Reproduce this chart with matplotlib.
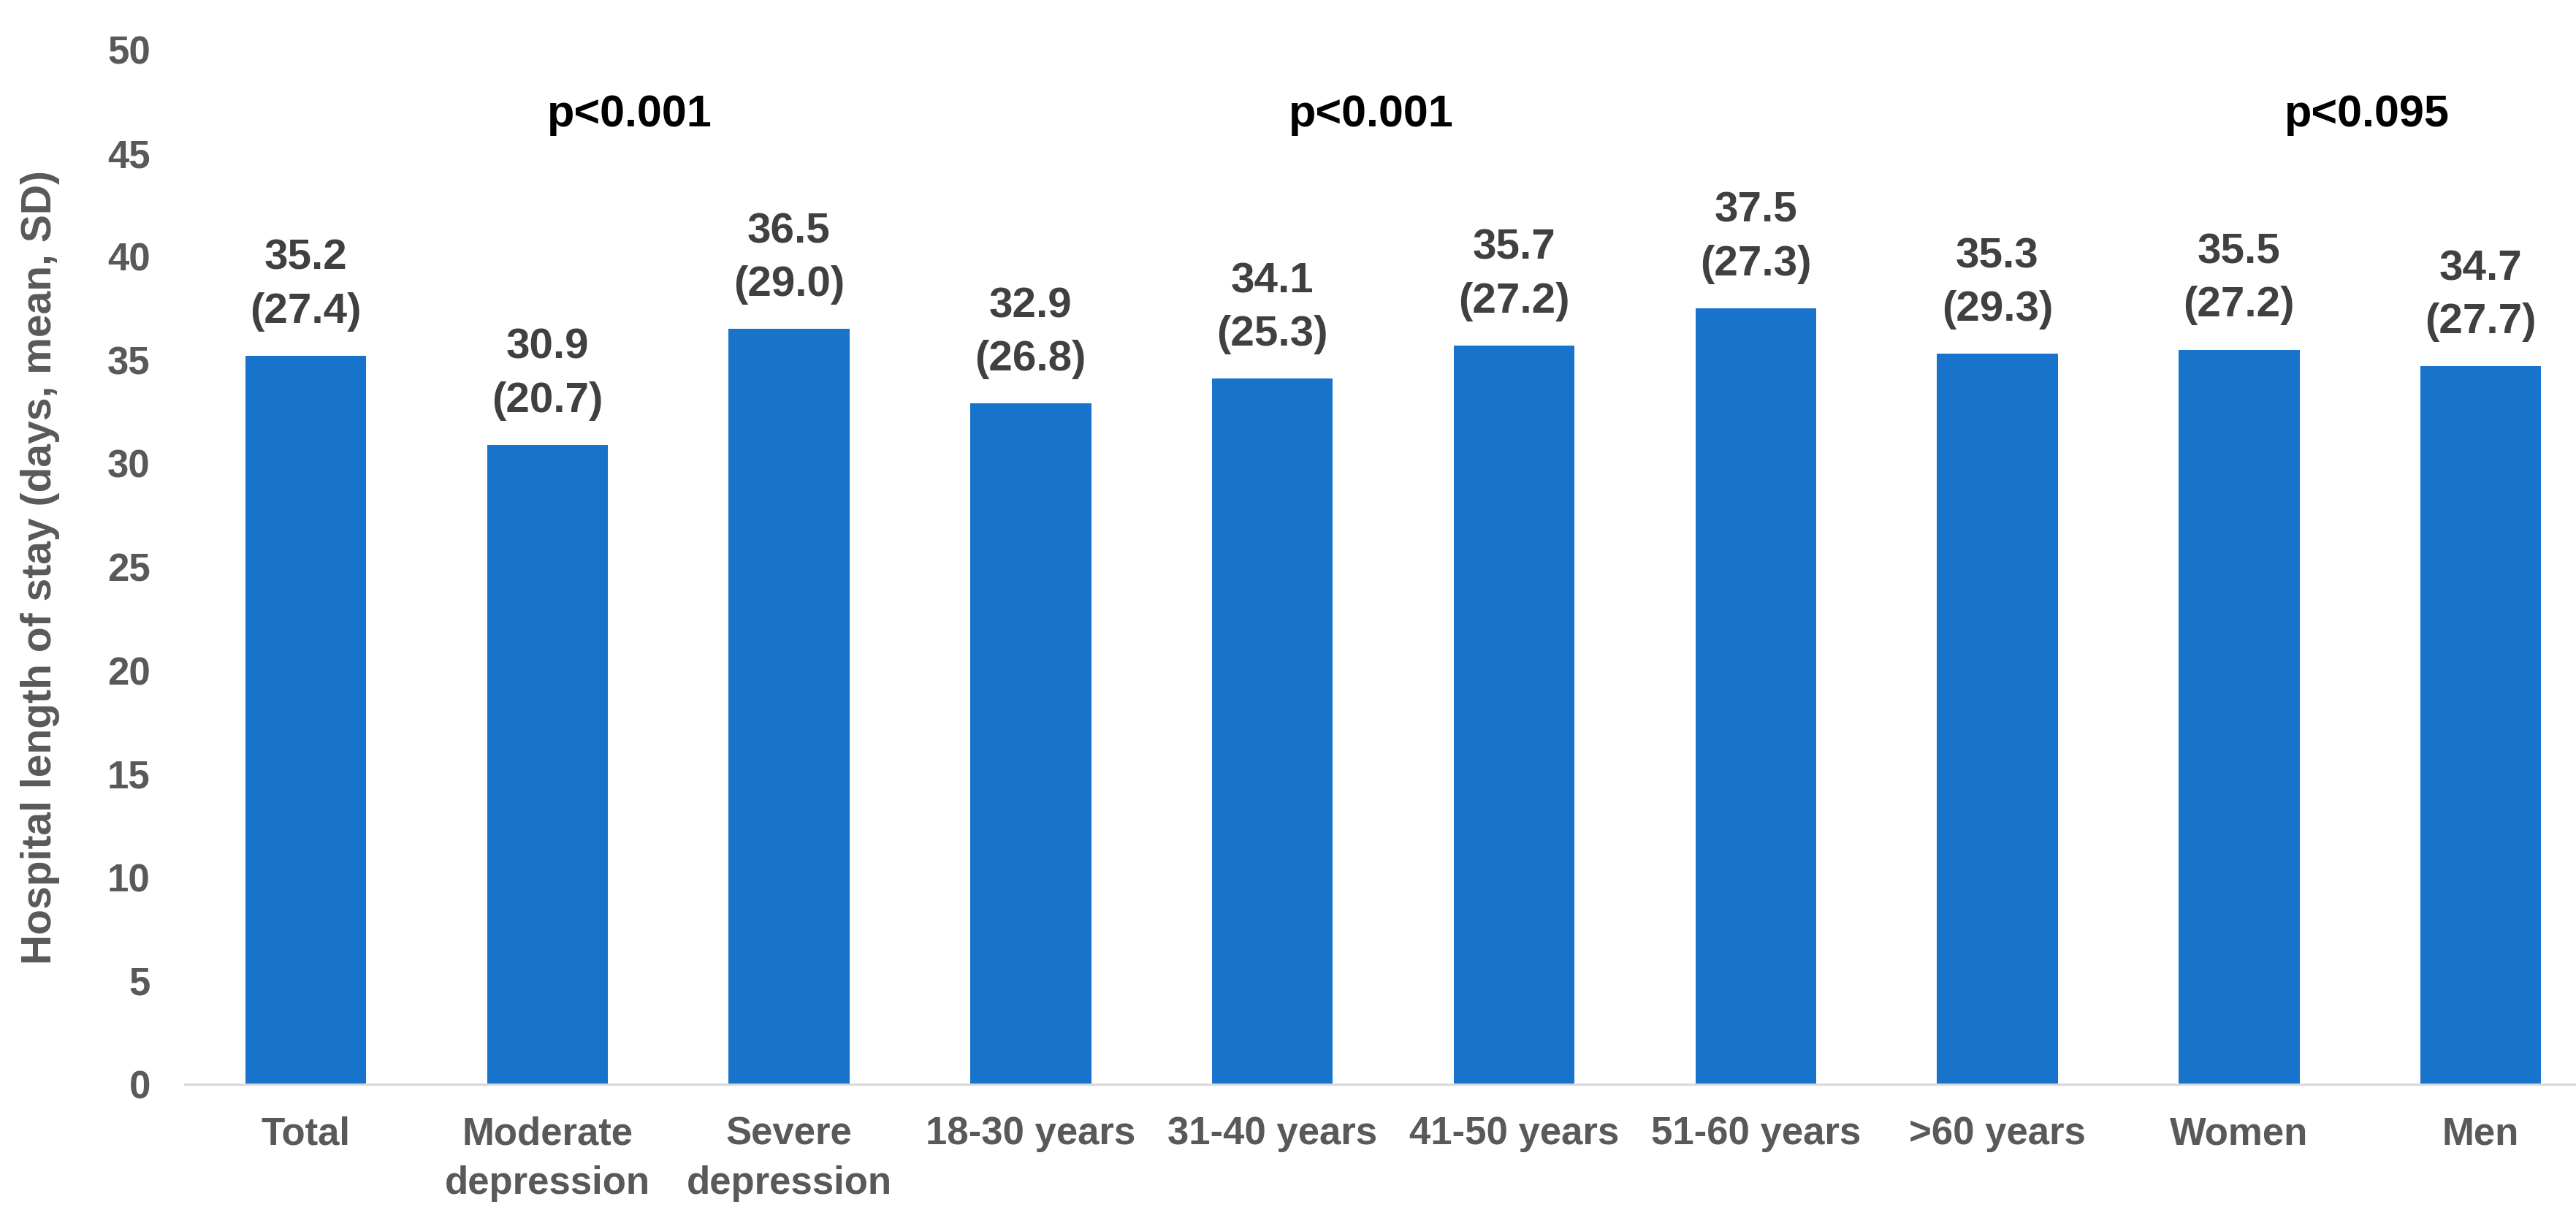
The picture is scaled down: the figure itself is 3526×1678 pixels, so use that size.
import matplotlib
matplotlib.use("Agg")
import matplotlib.pyplot as plt

categories = ["Total", "Moderate\ndepression", "Severe\ndepression", "18-30 years",
              "31-40 years", "41-50 years", "51-60 years", ">60 years", "Women", "Men"]
means = [35.2, 30.9, 36.5, 32.9, 34.1, 35.7, 37.5, 35.3, 35.5, 34.7]
sds = [27.4, 20.7, 29.0, 26.8, 25.3, 27.2, 27.3, 29.3, 27.2, 27.7]
p_labels = ["p<0.001", "p<0.001", "p<0.095"]
p_xpos = [1.34, 4.41, 8.53]
p_ypos = [46.85, 46.85, 46.85]
yticks = [0, 5, 10, 15, 20, 25, 30, 35, 40, 45, 50]
ylabel = "Hospital length of stay (days, mean, SD)"

plt.rcParams['font.family'] = ['Liberation Sans', 'DejaVu Sans']
plt.rcParams['font.weight'] = 'bold'

fig = plt.figure(figsize=(35.26, 16.78), dpi=100)
ax = fig.add_axes([253/3526, 194/1678, 3308/3526, 1416/1678])

x = list(range(len(categories)))
bars = ax.bar(x, means, width=0.5, color='#1873CA', zorder=2)

for xi, m, s in zip(x, means, sds):
    ax.annotate(f"{m:.1f}\n({s:.1f})", xy=(xi, m), xytext=(0, 24),
                textcoords='offset points', ha='center', va='bottom',
                fontsize=42, fontweight='bold', color='#404040',
                linespacing=1.45)

for lab, px, py in zip(p_labels, p_xpos, p_ypos):
    ax.text(px, py, lab, ha='center', va='center', fontsize=44,
            fontweight='bold', color='black')

ax.set_xlim(-0.5, len(categories) - 0.5)
ax.set_ylim(0, 50)
ax.set_yticks(yticks)
ax.set_yticklabels([str(t) for t in yticks])
ax.set_xticks(x)
ax.set_xticklabels(categories, linespacing=1.45)

for side in ['left', 'right', 'top']:
    ax.spines[side].set_visible(False)
ax.spines['bottom'].set_color('#D9D9D9')
ax.spines['bottom'].set_linewidth(2.2)

ax.tick_params(axis='y', length=0, pad=34, labelsize=38, labelcolor='#595959')
ax.tick_params(axis='x', length=0, pad=31, labelsize=38, labelcolor='#595959')
for t in ax.get_xticklabels() + ax.get_yticklabels():
    t.set_fontweight('bold')

fig.text(55/3526, 1 - 776/1678, ylabel, rotation=90, ha='center', va='center',
         fontsize=41, fontweight='bold', color='#595959')

fig.savefig("out.png", dpi=100, facecolor='white')
